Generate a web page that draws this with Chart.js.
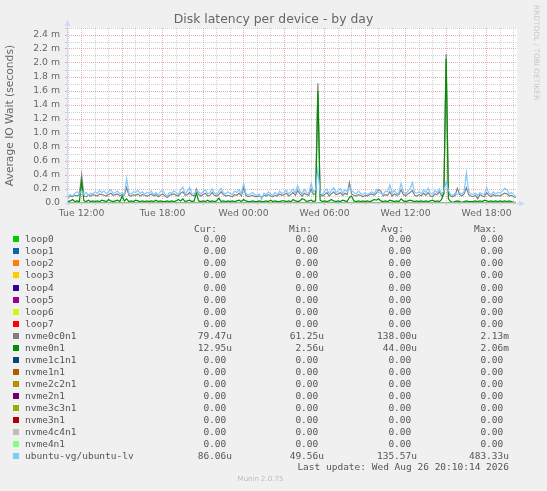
<!DOCTYPE html>
<html>
<head>
<meta charset="utf-8">
<title>Disk latency per device - by day</title>
<script src="https://cdn.jsdelivr.net/npm/chart.js@4.4.1/dist/chart.umd.min.js"></script>
<style>
  html, body { margin: 0; padding: 0; background: #f0f0f0; }
  #wrap { position: relative; width: 547px; height: 491px; overflow: hidden; font-family: "DejaVu Sans", sans-serif; color: #666; }
  #chart { position: absolute; left: 0; top: 0; }
  .title { position: absolute; left: 0; width: 547px; top: 10.5px; text-align: center; font-size: 12.4px; line-height: 15px; }
  .rrd { position: absolute; left: 532px; top: 5px; writing-mode: vertical-rl; font-size: 7.4px; line-height: 9px; color: #c8c8c8; }
  .mono { position: absolute; font-family: "DejaVu Sans Mono", monospace; font-size: 9.5px; line-height: 12px; white-space: pre; color: #555; }
  .sw { position: absolute; left: 13px; width: 6px; height: 6px; }
  .munin { position: absolute; left: 0; width: 521px; top: 474px; text-align: center; font-size: 7px; line-height: 10px; color: #bbb; }
</style>
</head>
<body>
<div id="wrap">
  <canvas id="chart" width="547" height="491"></canvas>
  <div class="title">Disk latency per device - by day</div>
  <div class="rrd">RRDTOOL / TOBI OETIKER</div>
  <div id="legend"></div>
  <div class="munin">Munin 2.0.75</div>
</div>
<script>
// minutes since Tue 00:00, one sample every 10 minutes from Tue 11:00 to Wed 20:10
const startMin = 660;
const stepMin = 10;

// values in milliseconds (axis shows "m")
const nvme0c0n1Vals = [
  0.08,0.10,0.09,0.11,0.10,0.12,0.40,0.10,0.09,0.11,0.10,0.12,
  0.11,0.10,0.13,0.12,0.11,0.10,0.12,0.14,0.11,0.12,0.13,0.10,
  0.12,0.11,0.22,0.11,0.10,0.12,0.11,0.13,0.10,0.12,0.11,0.10,
  0.11,0.13,0.10,0.12,0.09,0.11,0.13,0.10,0.08,0.11,0.12,0.13,
  0.11,0.10,0.14,0.16,0.11,0.12,0.15,0.11,0.10,0.20,0.12,0.10,
  0.12,0.14,0.10,0.11,0.15,0.11,0.10,0.12,0.16,0.12,0.10,0.11,
  0.10,0.09,0.12,0.11,0.14,0.10,0.22,0.11,0.09,0.10,0.11,0.09,
  0.09,0.10,0.08,0.11,0.10,0.12,0.10,0.09,0.11,0.10,0.13,0.11,
  0.12,0.14,0.10,0.12,0.15,0.11,0.18,0.13,0.10,0.14,0.12,0.11,
  0.20,0.12,0.14,1.71,0.13,0.10,0.12,0.15,0.10,0.13,0.16,0.12,
  0.13,0.15,0.11,0.14,0.12,0.29,0.13,0.11,0.10,0.12,0.11,0.09,
  0.11,0.10,0.12,0.13,0.11,0.14,0.19,0.17,0.10,0.12,0.11,0.16,
  0.10,0.13,0.11,0.12,0.19,0.12,0.10,0.13,0.15,0.18,0.11,0.10,
  0.12,0.10,0.14,0.11,0.15,0.10,0.09,0.13,0.12,0.16,0.10,0.13,
  2.13,0.14,0.10,0.09,0.11,0.21,0.12,0.10,0.13,0.22,0.12,0.10,
  0.09,0.11,0.06,0.12,0.10,0.09,0.15,0.11,0.09,0.12,0.10,0.11,
  0.10,0.12,0.14,0.13,0.10,0.11,0.09,0.08
];

const nvme0n1Vals = [
  0.02,0.03,0.05,0.02,0.03,0.02,0.30,0.03,0.02,0.04,0.02,0.03,
  0.02,0.03,0.02,0.04,0.03,0.02,0.05,0.03,0.02,0.03,0.04,0.02,
  0.10,0.03,0.06,0.02,0.03,0.02,0.04,0.03,0.02,0.03,0.02,0.03,
  0.02,0.03,0.02,0.04,0.02,0.03,0.02,0.02,0.03,0.02,0.03,0.02,
  0.03,0.05,0.03,0.06,0.02,0.03,0.04,0.02,0.03,0.14,0.03,0.02,
  0.03,0.02,0.04,0.02,0.03,0.02,0.03,0.07,0.02,0.03,0.02,0.03,
  0.02,0.03,0.02,0.03,0.04,0.02,0.05,0.03,0.02,0.02,0.03,0.02,
  0.02,0.03,0.02,0.02,0.03,0.02,0.04,0.02,0.03,0.02,0.02,0.03,
  0.03,0.02,0.03,0.02,0.05,0.03,0.02,0.03,0.06,0.05,0.02,0.03,
  0.04,0.02,0.03,1.60,0.04,0.02,0.03,0.02,0.03,0.05,0.03,0.02,
  0.03,0.02,0.04,0.03,0.02,0.08,0.10,0.03,0.02,0.03,0.02,0.03,
  0.02,0.03,0.02,0.03,0.05,0.04,0.06,0.03,0.02,0.03,0.02,0.04,
  0.03,0.02,0.03,0.02,0.06,0.03,0.02,0.03,0.04,0.03,0.02,0.03,
  0.02,0.03,0.02,0.03,0.02,0.03,0.04,0.02,0.03,0.02,0.05,0.14,
  2.06,0.06,0.02,0.01,0.02,0.03,0.02,0.01,0.02,0.03,0.02,0.02,
  0.02,0.03,0.02,0.03,0.02,0.04,0.03,0.02,0.03,0.02,0.03,0.02,
  0.03,0.02,0.03,0.02,0.03,0.02,0.01,0.01
];

const ubuntuLvVals = [
  0.09,0.12,0.10,0.14,0.16,0.13,0.18,0.12,0.15,0.11,0.14,0.13,
  0.16,0.14,0.18,0.15,0.17,0.13,0.16,0.19,0.14,0.15,0.17,0.13,
  0.15,0.12,0.35,0.14,0.13,0.16,0.15,0.18,0.14,0.16,0.13,0.15,
  0.14,0.17,0.12,0.15,0.11,0.16,0.18,0.13,0.10,0.15,0.14,0.17,
  0.15,0.12,0.19,0.23,0.13,0.17,0.22,0.14,0.12,0.18,0.16,0.13,
  0.16,0.19,0.13,0.15,0.20,0.14,0.12,0.17,0.21,0.15,0.13,0.16,
  0.14,0.12,0.17,0.15,0.19,0.13,0.28,0.14,0.11,0.13,0.15,0.12,
  0.11,0.13,0.05,0.14,0.12,0.16,0.13,0.11,0.15,0.12,0.17,0.14,
  0.15,0.18,0.13,0.16,0.20,0.14,0.25,0.17,0.13,0.19,0.15,0.14,
  0.28,0.16,0.19,0.48,0.14,0.12,0.17,0.20,0.13,0.18,0.22,0.15,
  0.17,0.21,0.14,0.19,0.16,0.23,0.18,0.15,0.13,0.17,0.14,0.12,
  0.15,0.12,0.14,0.16,0.13,0.19,0.15,0.14,0.12,0.17,0.16,0.26,
  0.14,0.18,0.13,0.15,0.28,0.16,0.13,0.17,0.20,0.29,0.15,0.14,
  0.16,0.13,0.19,0.15,0.21,0.14,0.12,0.18,0.15,0.20,0.13,0.17,
  0.30,0.18,0.12,0.11,0.14,0.12,0.15,0.13,0.16,0.43,0.17,0.13,
  0.12,0.14,0.11,0.15,0.13,0.12,0.22,0.14,0.12,0.16,0.13,0.15,
  0.14,0.17,0.21,0.19,0.13,0.15,0.12,0.09
];

const seriesNames = ['loop0','loop1','loop2','loop3','loop4','loop5','loop6','loop7',
  'nvme0c0n1','nvme0n1','nvme1c1n1','nvme1n1','nvme2c2n1','nvme2n1','nvme3c3n1','nvme3n1',
  'nvme4c4n1','nvme4n1','ubuntu-vg/ubuntu-lv'];
const seriesColors = ['#00CC00','#0066B3','#FF8000','#FFCC00','#330099','#990099','#CCFF00','#FF0000',
  '#808080','#008F00','#00487D','#B35A00','#B38F00','#6B006B','#8FB300','#B30000',
  '#BEBEBE','#80FF80','#80C9FF'];

const legendCur = ['0.00 ','0.00 ','0.00 ','0.00 ','0.00 ','0.00 ','0.00 ','0.00 ','79.47u','12.95u','0.00 ','0.00 ','0.00 ','0.00 ','0.00 ','0.00 ','0.00 ','0.00 ','86.06u'];
const legendMin = ['0.00 ','0.00 ','0.00 ','0.00 ','0.00 ','0.00 ','0.00 ','0.00 ','61.25u','2.56u','0.00 ','0.00 ','0.00 ','0.00 ','0.00 ','0.00 ','0.00 ','0.00 ','49.56u'];
const legendAvg = ['0.00 ','0.00 ','0.00 ','0.00 ','0.00 ','0.00 ','0.00 ','0.00 ','138.00u','44.00u','0.00 ','0.00 ','0.00 ','0.00 ','0.00 ','0.00 ','0.00 ','0.00 ','135.57u'];
const legendMax = ['0.00 ','0.00 ','0.00 ','0.00 ','0.00 ','0.00 ','0.00 ','0.00 ','2.13m','2.06m','0.00 ','0.00 ','0.00 ','0.00 ','0.00 ','0.00 ','0.00 ','0.00 ','483.33u'];

const xLabelAt = [720, 1080, 1440, 1800, 2160, 2520];
const xLabels = ['Tue 12:00','Tue 18:00','Wed 00:00','Wed 06:00','Wed 12:00','Wed 18:00'];

const times = ubuntuLvVals.map((_, i) => startMin + i * stepMin);
const zeroVals = times.map(() => 0);
const valuesByName = {
  'nvme0c0n1': nvme0c0n1Vals,
  'nvme0n1': nvme0n1Vals,
  'ubuntu-vg/ubuntu-lv': ubuntuLvVals
};

const hourTicks = [];
for (let m = 660; m <= 2640; m += 60) hourTicks.push(m);
const yTicks = [];
for (let i = 0; i <= 25; i++) yTicks.push(i / 10);

const minorGrid = 'rgba(140,140,140,0.4)';
const majorGrid = 'rgba(205,100,100,0.5)';
const axisColor = '#CFD6F8';

const datasets = seriesNames.map((name, i) => ({
  label: name,
  data: (valuesByName[name] || zeroVals).map((v, j) => ({ x: times[j], y: v })),
  borderColor: seriesColors[i],
  backgroundColor: seriesColors[i],
  borderWidth: 1.2,
  pointRadius: 0,
  tension: 0,
  fill: false,
  order: seriesNames.length - 1 - i
}));

// white plot area + rrdtool style axis arrows
const plotPaper = {
  id: 'plotPaper',
  beforeDraw(chart) {
    const { ctx, chartArea: a } = chart;
    ctx.save();
    ctx.fillStyle = '#ffffff';
    ctx.fillRect(a.left, a.top, a.right - a.left, a.bottom - a.top);
    ctx.restore();
  },
  afterDatasetsDraw(chart) {
    const { ctx, chartArea: a } = chart;
    const y0 = Math.round(a.bottom) + 0.5;
    const x0 = Math.round(a.left) + 0.5;
    ctx.save();
    ctx.strokeStyle = axisColor;
    ctx.fillStyle = axisColor;
    ctx.lineWidth = 1;
    ctx.beginPath();
    ctx.moveTo(a.left - 2, y0); ctx.lineTo(a.right + 4, y0);
    ctx.moveTo(x0, a.bottom + 2); ctx.lineTo(x0, a.top - 3);
    ctx.stroke();
    ctx.beginPath();
    ctx.moveTo(a.right + 2, y0 - 3); ctx.lineTo(a.right + 8, y0); ctx.lineTo(a.right + 2, y0 + 3);
    ctx.closePath(); ctx.fill();
    ctx.beginPath();
    ctx.moveTo(x0 - 3, a.top - 2); ctx.lineTo(x0, a.top - 8); ctx.lineTo(x0 + 3, a.top - 2);
    ctx.closePath(); ctx.fill();
    ctx.restore();
  }
};

new Chart(document.getElementById('chart'), {
  type: 'line',
  data: { datasets },
  options: {
    responsive: false,
    animation: false,
    events: [],
    layout: { padding: { top: 28, right: 30, left: 0, bottom: 0 } },
    plugins: { legend: { display: false }, tooltip: { enabled: false }, title: { display: false } },
    scales: {
      x: {
        type: 'linear',
        min: 655,
        max: 2655,
        afterFit: s => { s.height = 288; },
        afterBuildTicks: s => { s.ticks = hourTicks.map(v => ({ value: v })); },
        border: { display: false, dash: [1, 1] },
        grid: {
          color: c => (c.tick && c.tick.value % 180 === 0) ? majorGrid : minorGrid,
          lineWidth: 1,
          tickLength: 2
        },
        ticks: {
          autoSkip: false,
          maxRotation: 0,
          minRotation: 0,
          padding: 3,
          color: '#666',
          font: { family: 'DejaVu Sans', size: 9.3 },
          callback: v => {
            const k = xLabelAt.indexOf(v);
            return k >= 0 ? xLabels[k] : '';
          }
        }
      },
      y: {
        type: 'linear',
        min: 0,
        max: 2.5,
        afterFit: s => { s.width = 67; },
        afterBuildTicks: s => { s.ticks = yTicks.map(v => ({ value: v })); },
        border: { display: false, dash: [1, 1] },
        grid: {
          color: c => (c.tick && Math.round(c.tick.value * 10) % 2 === 0) ? majorGrid : minorGrid,
          lineWidth: 1,
          tickLength: 2
        },
        title: {
          display: true,
          text: 'Average IO Wait (seconds)',
          color: '#666',
          font: { family: 'DejaVu Sans', size: 10.7 },
          padding: { top: 4, bottom: 0 }
        },
        ticks: {
          autoSkip: false,
          padding: 5,
          color: '#666',
          font: { family: 'DejaVu Sans', size: 9.3 },
          callback: v => {
            const t = Math.round(v * 10);
            if (t % 2 !== 0) return '';
            return t === 0 ? '0.0' : (t / 10).toFixed(1) + ' m';
          }
        }
      }
    }
  },
  plugins: [plotPaper]
});

// rrdtool style text legend
const legend = document.getElementById('legend');
function addText(txt, left, top, width, align) {
  const d = document.createElement('div');
  d.className = 'mono';
  d.textContent = txt;
  d.style.left = left + 'px';
  d.style.top = top + 'px';
  if (width) { d.style.width = width + 'px'; d.style.textAlign = align || 'right'; }
  legend.appendChild(d);
}
const headTop = 228.5 - 6;
addText('Cur:', 117, headTop, 100);
addText('Min:', 212, headTop, 100);
addText('Avg:', 304, headTop, 100);
addText('Max:', 397, headTop, 100);
seriesNames.forEach((name, i) => {
  const cy = 239.3 + 12.05 * i;
  const sw = document.createElement('div');
  sw.className = 'sw';
  sw.style.top = (cy - 3) + 'px';
  sw.style.background = seriesColors[i];
  legend.appendChild(sw);
  addText(name, 25, cy - 6);
  addText(legendCur[i], 132, cy - 6, 100);
  addText(legendMin[i], 224, cy - 6, 100);
  addText(legendAvg[i], 317, cy - 6, 100);
  addText(legendMax[i], 409, cy - 6, 100);
});
addText('Last update: Wed Aug 26 20:10:14 2026', 209, 467.3 - 6, 300);
</script>
</body>
</html>
